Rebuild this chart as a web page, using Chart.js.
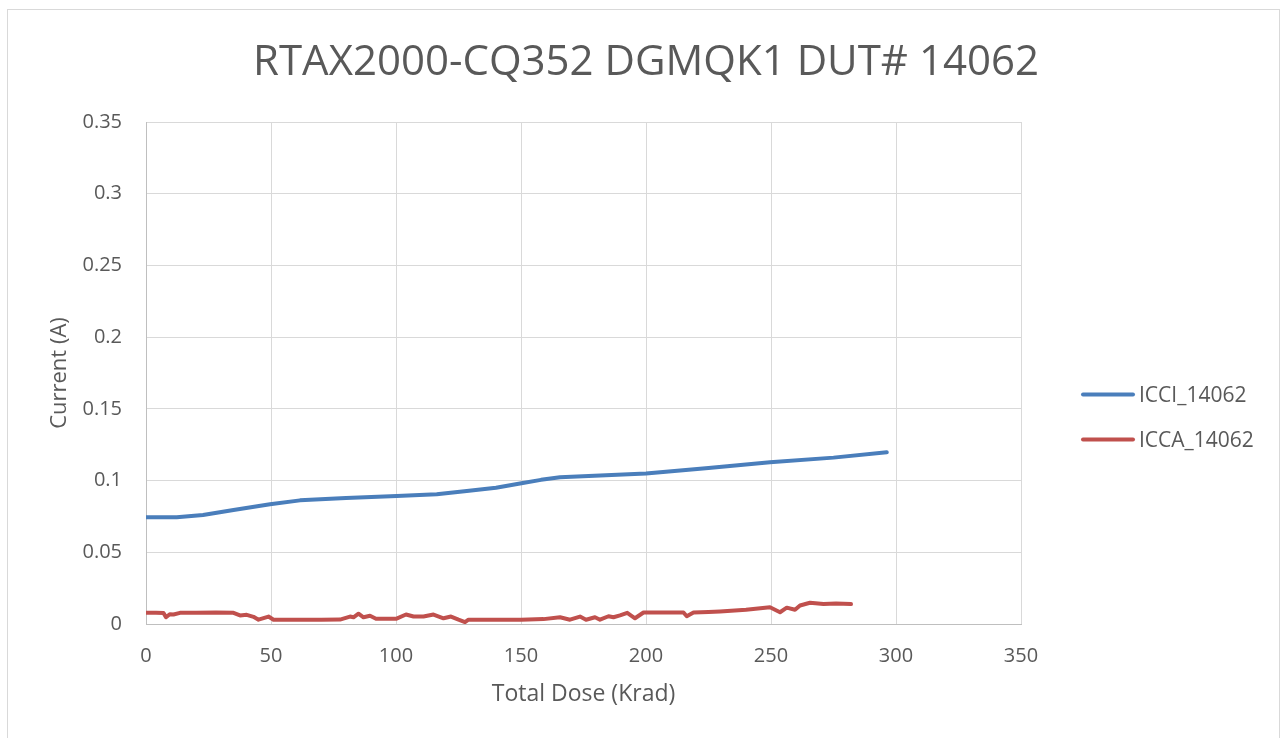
<!DOCTYPE html>
<html>
<head>
<meta charset="utf-8">
<script src="https://cdn.jsdelivr.net/npm/chart.js@4/dist/chart.umd.min.js"></script>
<style>
  html, body { margin:0; padding:0; background:#fff; overflow:hidden; }
  #wrap { position:absolute; left:0; top:0; width:1285px; height:738px; }
  #frame { position:absolute; left:7px; top:9px; width:1273px; height:800px; border:1px solid #d9d9d9; box-sizing:border-box; }
  canvas { position:absolute; left:0; top:0; }
</style>
</head>
<body>
<div id="wrap">
  <div id="frame"></div>
  <canvas id="c" width="1285" height="738"></canvas>
</div>
<script>
const chartTitle = 'RTAX2000-CQ352 DGMQK1 DUT# 14062';
const xAxisTitle = 'Total Dose (Krad)';
const yAxisTitle = 'Current (A)';
const seriesNames = ['ICCI_14062', 'ICCA_14062'];
const yTickLabels = ['0', '0.05', '0.1', '0.15', '0.2', '0.25', '0.3', '0.35'];
const xTickLabels = ['0', '50', '100', '150', '200', '250', '300', '350'];

const icciDose = [0, 12.3, 22.8, 35, 49.6, 61.6, 80, 100.3, 116.3, 128.3, 140, 149.6, 158, 165.6, 200, 225, 249.6, 275, 296.3];
const icciCurrent = [0.0745, 0.0745, 0.0760, 0.0795, 0.0835, 0.0862, 0.0878, 0.0892, 0.0904, 0.0927, 0.0950, 0.0980, 0.1005, 0.1023, 0.1050, 0.1088, 0.1128, 0.1160, 0.1197];

const iccaDose = [0, 4, 7, 8, 9.5, 11, 13.6, 20, 28, 35, 37.6, 40.3, 43, 45, 49, 51, 60, 70, 77.6, 81.6, 83, 85, 87, 89.6, 92, 100, 104, 107, 111, 115, 119, 122, 125, 127.6, 129, 140, 150, 159, 165.6, 169.6, 173.6, 176, 179.6, 181.6, 185, 187, 189.6, 192.5, 195.6, 199, 205, 215, 216.3, 219, 225, 229.6, 240, 249.6, 253.6, 256.3, 259.6, 261.6, 265.6, 271, 276, 282];
const iccaCurrent = [0.0078, 0.0079, 0.0077, 0.0047, 0.0068, 0.0066, 0.0078, 0.0079, 0.0080, 0.0078, 0.0060, 0.0064, 0.0050, 0.0030, 0.0052, 0.0030, 0.0029, 0.0029, 0.0031, 0.0052, 0.0047, 0.0072, 0.0047, 0.0057, 0.0036, 0.0036, 0.0066, 0.0052, 0.0052, 0.0066, 0.0040, 0.0052, 0.0030, 0.0013, 0.0030, 0.0029, 0.0030, 0.0034, 0.0047, 0.0030, 0.0052, 0.0030, 0.0047, 0.0030, 0.0054, 0.0047, 0.0060, 0.0078, 0.0040, 0.0080, 0.0081, 0.0080, 0.0054, 0.0080, 0.0083, 0.0087, 0.0100, 0.0117, 0.0082, 0.0114, 0.0099, 0.0129, 0.0148, 0.0139, 0.0143, 0.0139];

const seriesColors = ['#4a7ebb', '#c0504d'];
const FONT = '"Open Sans", "Liberation Sans", sans-serif';
const TEXT = '#595959';

function pts(xs, ys) { return xs.map((x, i) => ({ x: x, y: ys[i] })); }

const extras = {
  id: 'extras',
  afterDraw(chart) {
    const ctx = chart.ctx;
    ctx.save();
    ctx.fillStyle = TEXT;
    ctx.font = '42px ' + FONT;
    ctx.textAlign = 'center';
    ctx.textBaseline = 'alphabetic';
    ctx.fillText(chartTitle, 646, 75);
    // legend
    ctx.font = '21px ' + FONT;
    ctx.textAlign = 'left';
    const ly = [394.5, 439.5];
    const ty = [402, 447];
    chart.data.datasets.forEach((ds, i) => {
      ctx.strokeStyle = ds.borderColor;
      ctx.lineWidth = 4;
      ctx.lineCap = 'round';
      ctx.beginPath();
      ctx.moveTo(1083, ly[i]);
      ctx.lineTo(1133, ly[i]);
      ctx.stroke();
      ctx.fillStyle = TEXT;
      ctx.fillText(ds.label, 1139, ty[i]);
    });
    ctx.restore();
  }
};

new Chart(document.getElementById('c'), {
  type: 'line',
  data: {
    datasets: [
      { label: seriesNames[0], data: pts(icciDose, icciCurrent), borderColor: seriesColors[0], borderWidth: 4, pointRadius: 0, tension: 0, borderCapStyle: 'round', borderJoinStyle: 'round' },
      { label: seriesNames[1], data: pts(iccaDose, iccaCurrent), borderColor: seriesColors[1], borderWidth: 4, pointRadius: 0, tension: 0, borderCapStyle: 'round', borderJoinStyle: 'round' }
    ]
  },
  options: {
    responsive: false,
    animation: false,
    events: [],
    layout: { padding: { left: 0, right: 264, top: 122, bottom: 0 } },
    plugins: { legend: { display: false }, title: { display: false }, tooltip: { enabled: false } },
    scales: {
      x: {
        type: 'linear', min: 0, max: 350,
        ticks: { stepSize: 50, color: TEXT, font: { family: FONT, size: 20 }, padding: 20,
                 callback: (v, i) => xTickLabels[i] },
        grid: { color: '#d9d9d9', lineWidth: 1, drawTicks: false },
        border: { color: '#bfbfbf', width: 1 },
        title: { display: true, text: xAxisTitle, color: TEXT, font: { family: FONT, size: 23 }, padding: { top: 0, bottom: 30 } },
        afterFit: s => { s.height = 114; }
      },
      y: {
        type: 'linear', min: 0, max: 0.35,
        ticks: { stepSize: 0.05, color: TEXT, font: { family: FONT, size: 20 }, padding: 24,
                 callback: (v, i) => yTickLabels[i] },
        grid: { color: '#d9d9d9', lineWidth: 1, drawTicks: false },
        border: { color: '#bfbfbf', width: 1 },
        title: { display: true, text: yAxisTitle, color: TEXT, font: { family: FONT, size: 22 }, padding: { top: 47, bottom: 0 } },
        afterFit: s => { s.width = 146; }
      }
    }
  },
  plugins: [extras]
});
</script>
</body>
</html>
